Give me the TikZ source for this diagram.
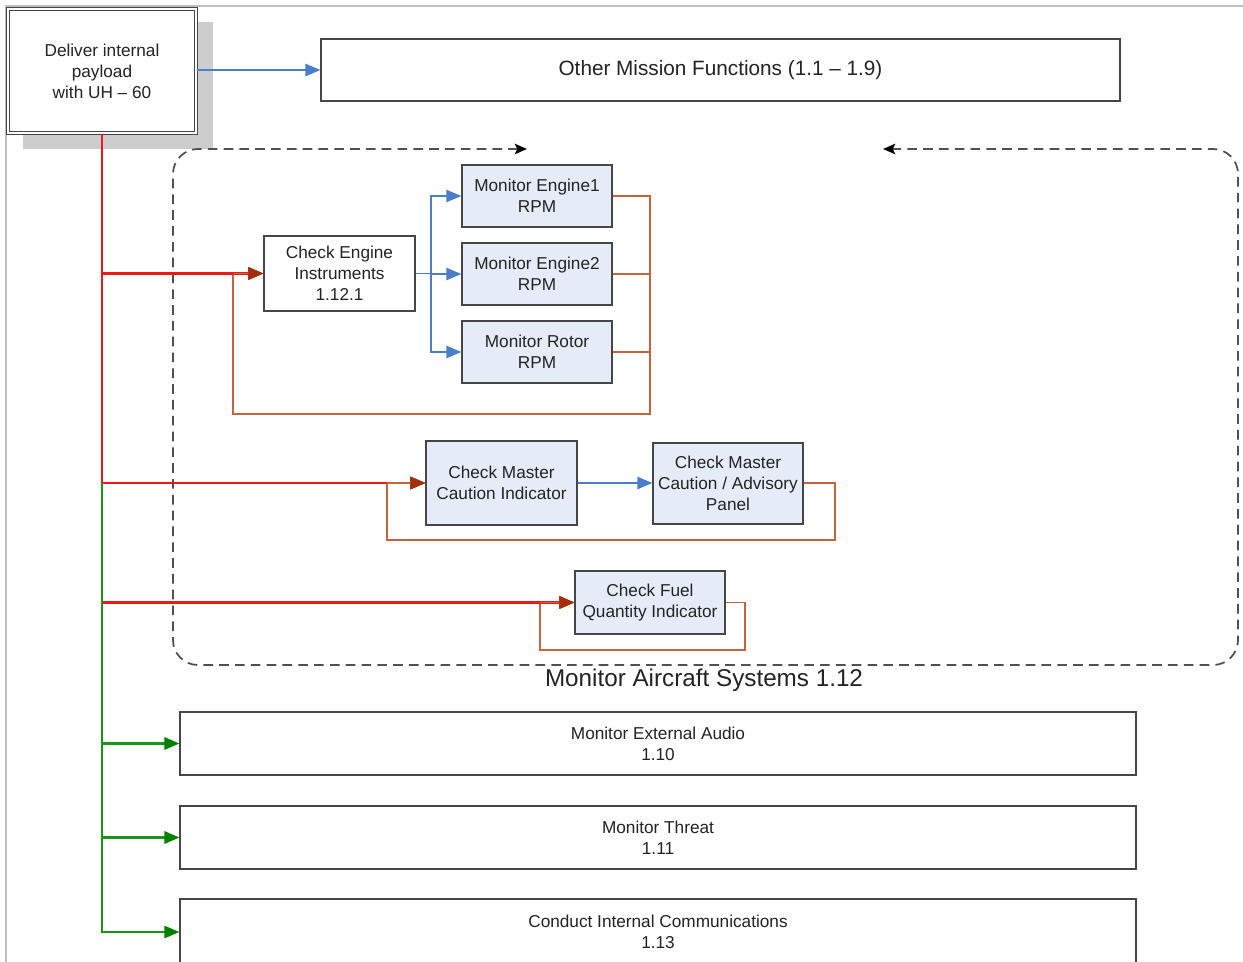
\documentclass[tikz,border=0pt]{standalone}
\usepackage{fontspec}
\setmainfont{Liberation Sans}
\usetikzlibrary{arrows.meta, positioning, calc}
\definecolor{lineblue}{RGB}{74,126,200}
\definecolor{linered}{RGB}{235,25,25}
\definecolor{fbbrown}{RGB}{195,100,60}
\definecolor{tipred}{RGB}{165,45,10}
\definecolor{linegreen}{RGB}{25,150,25}
\definecolor{tipgreen}{RGB}{0,130,0}
\definecolor{boxfill}{RGB}{230,236,247}
\definecolor{boxedge}{RGB}{70,70,70}
\definecolor{shadowgray}{RGB}{205,205,205}
\definecolor{framegray}{RGB}{190,190,190}
\definecolor{dashgray}{RGB}{80,80,80}
\definecolor{textgray}{RGB}{35,35,35}

\tikzset{
  procbox/.style={draw=boxedge, line width=0.8pt, fill=white, text=textgray, align=center,
    inner sep=1pt, font=\fontsize{9.8}{11.9}\selectfont},
  taskbox/.style={procbox, fill=boxfill, minimum width=3cm, minimum height=1.24cm},
  widebox/.style={procbox, minimum width=19.12cm, minimum height=1.26cm},
  flowarr/.style={draw=lineblue, line width=0.8pt, -{Triangle[length=8.5pt,width=7pt]}},
  fbarr/.style={draw=fbbrown, line width=0.8pt, -{Triangle[length=8.5pt,width=7pt,color=tipred]}},
  redline/.style={draw=linered, line width=1.3pt, -{Triangle[length=8.5pt,width=7pt,color=tipred]}},
  grnarr/.style={draw=linegreen, line width=1.2pt, -{Triangle[length=8.5pt,width=7pt,color=tipgreen]}},
  dashloop/.style={draw=dashgray, line width=1pt, dash pattern=on 5.5pt off 3.5pt,
    rounded corners=0.5cm, {Stealth[length=7pt,width=6pt,inset=1.5pt,black]}-{Stealth[length=7pt,width=6pt,inset=1.5pt,black]}}
}

\begin{document}
\begin{tikzpicture}[x=0.02cm, y=-0.02cm]
  \useasboundingbox (0,0) rectangle (1243,962);
  % page frame
  \draw[framegray, line width=0.6pt] (1243,6) -- (6,6) -- (6,962);

  % top level
  \fill[shadowgray] (23,22) rectangle (213,149);
  \node[procbox, minimum width=3.76cm, minimum height=2.48cm, double=white, double distance=1.2pt,
    line width=0.6pt] (deliver) at (102,71) {Deliver internal\\payload\\with UH -- 60};
  \node[procbox, minimum width=15.98cm, minimum height=1.24cm, font=\fontsize{11.8}{14}\selectfont]
    (other) at (720.5,70) {Other Mission Functions (1.1 -- 1.9)};
  \draw[flowarr] (deliver.east |- other.west) -- (other.west);

  % monitor aircraft systems group
  \draw[dashloop] (527,149) -- (173,149) -- (173,665) -- (1238,665) -- (1238,149) -- (883,149);
  \node[text=textgray, font=\fontsize{13.8}{16}\selectfont] (masys) at (704,680) {Monitor Aircraft Systems 1.12};

  \node[procbox, minimum width=3.02cm, minimum height=1.5cm] (cei) at (339.5,273.5) {Check Engine\\Instruments\\1.12.1};
  \node[taskbox] (eng1) at (537,196) {Monitor Engine1\\RPM};
  \node[taskbox] (eng2) at (537,274) {Monitor Engine2\\RPM};
  \node[taskbox] (rotor) at (537,352) {Monitor Rotor\\RPM};

  \node[taskbox, minimum width=3.02cm, minimum height=1.68cm] (mci) at (501.5,483) {Check Master\\Caution Indicator};
  \node[taskbox, minimum height=1.62cm] (cap) at (728,483.5) {Check Master\\Caution / Advisory\\Panel};
  \node[taskbox, minimum height=1.26cm] (fuel) at (650,602.5) {Check Fuel\\Quantity Indicator};

  % other tasks
  \node[widebox] (audio) at (658,743.5) {Monitor External Audio\\1.10};
  \node[widebox] (threat) at (658,837.5) {Monitor Threat\\1.11};
  \node[widebox, minimum height=1.32cm] (comms) at (658,932) {Conduct Internal Communications\\1.13};

  % engine checks
  \coordinate (split) at (431,273.5);
  \draw[flowarr] (cei.east) -- (split) |- (eng1.west);
  \draw[flowarr] (split) |- (eng2.west);
  \draw[flowarr] (split) |- (rotor.west);
  \coordinate (engR) at (650,414);
  \coordinate (engL) at (233,414);
  \draw[fbarr] (eng1.east) -| (engR) -| (engL) |- (cei.west);
  \draw[fbbrown, line width=0.8pt] (eng2.east) -- (engR |- eng2.east);
  \draw[fbbrown, line width=0.8pt] (rotor.east) -- (engR |- rotor.east);

  % caution checks
  \draw[flowarr] (mci.east) -- (cap.west |- mci.east);
  \coordinate (capR) at (835,540);
  \coordinate (capL) at (387,540);
  \draw[fbarr] (cap.east |- mci.east) -| (capR) -| (capL) |- (mci.west);

  % fuel check
  \coordinate (fuelR) at (745,650);
  \coordinate (fuelL) at (540,650);
  \draw[fbarr] (fuel.east) -| (fuelR) -| (fuelL) |- (fuel.west);

  % trunk
  \draw[redline] (deliver.south) |- (cei.west);
  \draw[redline] (deliver.south) |- (mci.west);
  \draw[redline] (deliver.south) |- (fuel.west);
  \coordinate (gsplit) at (102,483);
  \draw[grnarr] (gsplit) |- (audio.west);
  \draw[grnarr] (gsplit) |- (threat.west);
  \draw[grnarr, line width=0.9pt] (gsplit) |- (comms.west);
  % redraw feedback tips over the red lines
  \draw[fbarr] (engL |- cei.west) -- (cei.west);
  \draw[fbarr] (capL |- mci.west) -- (mci.west);
  \draw[fbarr] (fuelL |- fuel.west) -- (fuel.west);
\end{tikzpicture}
\end{document}
